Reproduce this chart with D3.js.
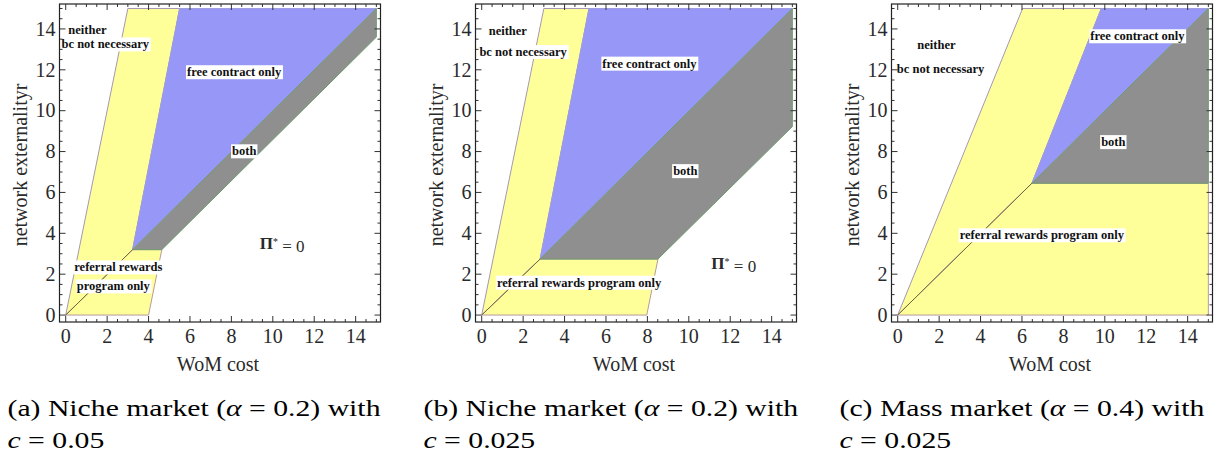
<!DOCTYPE html>
<html>
<head>
<meta charset="utf-8">
<script src="https://cdn.jsdelivr.net/npm/d3@7"></script>
<style>
body{margin:0;background:#fff;}
svg{display:block;}
.tickText{font-family:"Liberation Serif","Times New Roman",serif;font-size:20px;fill:#2a2a2a;}
.axisTitle{font-family:"Liberation Serif","Times New Roman",serif;font-size:20px;fill:#2a2a2a;}
.regionText{font-family:"Liberation Serif","Times New Roman",serif;font-weight:bold;font-size:12.5px;fill:#111;}
.caption{font-family:"Liberation Serif","Times New Roman",serif;font-size:23px;fill:#000;}
</style>
</head>
<body>
<div id="chart"></div>
<script>
// ticks shared by all three panels
const tickValues = [0, 2, 4, 6, 8, 10, 12, 14];

// regions in (WoM cost, network externality) -- panel a
const bandA = [[0,0],[3,15],[5.5,15],[3.23,3.2]];
const lowA  = [[0,0],[4,0],[4.64,3.2],[3.23,3.2]];
const freeA = [[3.23,3.2],[5.5,15],[15,15]];
const bothA = [[3.23,3.2],[15,15],[15,13.6],[4.64,3.2]];
const splitA = [[0,0],[3.23,3.2]];
const labelsA = [["neither",1.05,13.95],["bc not necessary",1.91,13.26],["free contract only",8.13,11.9],
                 ["both",8.62,8.03],["referral rewards",2.54,2.35],["program only",2.3,1.42]];
const piA = [10.45, 3.52];

// panel b
const bandB = [[0,0],[3,15],[5.18,15],[2.82,2.74]];
const lowB  = [[0,0],[7.97,0],[8.51,2.74],[2.82,2.74]];
const freeB = [[2.82,2.74],[5.18,15],[15,15]];
const bothB = [[2.82,2.74],[15,15],[15,9.22],[8.51,2.74]];
const splitB = [[0,0],[2.82,2.74]];
const labelsB = [["neither",1.26,13.9],["bc not necessary",2.0,12.89],["free contract only",8.1,12.32],
                 ["both",9.83,7.06],["referral rewards program only",4.7,1.6]];
const piB = [12.17, 2.53];

// panel c
const bandC = [[0,0],[6.03,15],[9.83,15],[6.48,6.45]];
const lowC  = [[0,0],[15,0],[15,6.45],[6.48,6.45]];
const freeC = [[6.48,6.45],[9.83,15],[15,15]];
const bothC = [[6.48,6.45],[15,15],[15,6.45]];
const splitC = [[0,0],[6.48,6.45]];
const labelsC = [["neither",1.87,13.25],["bc not necessary",2.07,12.04],["free contract only",11.57,13.66],
                 ["both",10.41,8.48],["referral rewards program only",6.96,3.92]];
const piC = null;

// captions
const captionTags = ["a", "b", "c"];
const captionMarkets = ["Niche", "Niche", "Mass"];
const captionAlphas = ["0.2", "0.2", "0.4"];
const captionCs = ["0.05", "0.025", "0.025"];

const panels = [
	{left: 59.5, band: bandA, low: lowA, free: freeA, both: bothA, split: splitA, labels: labelsA, pi: piA},
	{left: 475.5, band: bandB, low: lowB, free: freeB, both: bothB, split: splitB, labels: labelsB, pi: piB},
	{left: 891.5, band: bandC, low: lowC, free: freeC, both: bothC, split: splitC, labels: labelsC, pi: piC}
];

const W = 1222, H = 457;
const plotW = 321, plotTop = 4, plotBottom = 322;

const svg = d3.select("#chart").append("svg").attr("width", W).attr("height", H);

panels.forEach((p, i) => {
	const x = d3.scaleLinear().domain([-0.3, 15.2]).range([p.left, p.left + plotW]);
	const y = d3.scaleLinear().domain([-0.34, 15.22]).range([plotBottom, plotTop]);
	const line = d3.line().x(d => x(d[0])).y(d => y(d[1]));
	const poly = pts => line(pts) + "Z";

	const g = svg.append("g").attr("class", "panel");

	g.append("path").attr("d", poly(p.band)).attr("fill", "#ffff99").attr("stroke", "#a497b4").attr("stroke-width", 1);
	g.append("path").attr("d", poly(p.low)).attr("fill", "#ffff99").attr("stroke", "#b89a9a").attr("stroke-width", 1);
	g.append("path").attr("d", poly(p.free)).attr("fill", "#9797f7").attr("stroke", "#9c9ce0").attr("stroke-width", 1);
	g.append("path").attr("d", poly(p.both)).attr("fill", "#8f8f8f").attr("stroke", "#6f9c6f").attr("stroke-width", 1);
	g.append("path").attr("d", line(p.split)).attr("fill", "none").attr("stroke", "#6e5e36").attr("stroke-width", 0.9);

	// region labels on white boxes
	p.labels.forEach(l => {
		const lg = g.append("g");
		const t = lg.append("text").attr("class", "regionText")
			.attr("x", x(l[1])).attr("y", y(l[2])).attr("dy", "0.35em")
			.attr("text-anchor", "middle").text(l[0]);
		const bb = t.node().getBBox();
		lg.insert("rect", "text").attr("x", bb.x - 1).attr("y", bb.y)
			.attr("width", bb.width + 2).attr("height", bb.height).attr("fill", "#fff");
	});

	if (p.pi) {
		const pt = g.append("text").attr("class", "axisTitle")
			.attr("x", x(p.pi[0])).attr("y", y(p.pi[1])).attr("dy", "0.35em")
			.attr("text-anchor", "middle").style("font-size", "17px");
		pt.append("tspan").attr("font-weight", "bold").text("\u03a0");
		pt.append("tspan").attr("dy", "-0.45em").style("font-size", "10px").text("*");
		pt.append("tspan").attr("dy", "0.45em").text(" = 0");
	}

	// frame and inward ticks
	const minor = d3.range(0, 15.01, 0.5);
	const fx0 = p.left, fx1 = p.left + plotW;
	minor.forEach(v => {
		const len = (v % 2 === 0) ? 6 : 3;
		g.append("line").attr("x1", x(v)).attr("x2", x(v)).attr("y1", plotBottom).attr("y2", plotBottom - len).attr("stroke", "#333");
		g.append("line").attr("x1", x(v)).attr("x2", x(v)).attr("y1", plotTop).attr("y2", plotTop + len).attr("stroke", "#333");
		g.append("line").attr("x1", fx0).attr("x2", fx0 + len).attr("y1", y(v)).attr("y2", y(v)).attr("stroke", "#333");
		g.append("line").attr("x1", fx1).attr("x2", fx1 - len).attr("y1", y(v)).attr("y2", y(v)).attr("stroke", "#333");
	});
	g.append("rect").attr("x", fx0).attr("y", plotTop).attr("width", plotW).attr("height", plotBottom - plotTop)
		.attr("fill", "none").attr("stroke", "#222").attr("stroke-width", 1.2);

	g.selectAll(".xt").data(tickValues).join("text").attr("class", "tickText")
		.attr("x", d => x(d)).attr("y", 343).attr("text-anchor", "middle").text(d => d);
	g.selectAll(".yt").data(tickValues).join("text").attr("class", "tickText")
		.attr("x", fx0 - 4).attr("y", d => y(d)).attr("dy", "0.34em").attr("text-anchor", "end").text(d => d);

	g.append("text").attr("class", "axisTitle").attr("x", p.left + plotW / 2 - 2).attr("y", 371)
		.attr("text-anchor", "middle").text("WoM cost");
	g.append("text").attr("class", "axisTitle")
		.attr("transform", `translate(${p.left - 33},165) rotate(-90)`)
		.attr("text-anchor", "middle").text("network externalityr");

	// caption
	const c1 = svg.append("text").attr("class", "caption cap").attr("x", p.left - 52).attr("y", 416);
	c1.append("tspan").text(`(${captionTags[i]}) ${captionMarkets[i]} market (`);
	c1.append("tspan").style("font-style", "italic").text("\u03b1");
	c1.append("tspan").text(` = ${captionAlphas[i]}) with`);
	const c2 = svg.append("text").attr("class", "caption cap").attr("x", p.left - 52).attr("y", 448);
	c2.append("tspan").style("font-style", "italic").text("c");
	c2.append("tspan").text(` = ${captionCs[i]}`);
});

// stretch captions to the wider Computer Modern look
const caps = svg.selectAll(".cap").nodes();
const k = 373 / caps[0].getComputedTextLength();
caps.forEach(n => {
	d3.select(n).attr("textLength", n.getComputedTextLength() * k).attr("lengthAdjust", "spacingAndGlyphs");
});
</script>
</body>
</html>
